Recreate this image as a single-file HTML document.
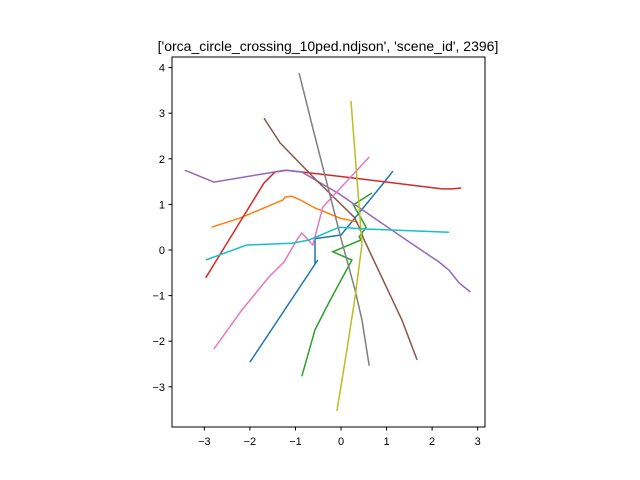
<!DOCTYPE html>
<html><head><meta charset="utf-8"><style>
body{margin:0;background:#fff;}
svg{display:block;font-family:"Liberation Sans","DejaVu Sans",sans-serif;}
</style></head><body>
<svg id="chart" width="640" height="480">
<rect width="640" height="480" fill="#fff"/>
<text x="328" y="51" text-anchor="middle" font-size="14">['orca_circle_crossing_10ped.ndjson', 'scene_id', 2396]</text>
<g id="lines"></g>
<rect x="172" y="57" width="313" height="370" fill="none" stroke="#000" stroke-width="1"/>
<g id="ticks"></g>
</svg>
<script>
const xTicks = [-3,-2,-1,0,1,2,3];
const yTicks = [-3,-2,-1,0,1,2,3,4];
const colors = ["#1f77b4","#ff7f0e","#2ca02c","#d62728","#9467bd","#8c564b","#e377c2","#7f7f7f","#bcbd22","#17becf"];
const ped0 = [[-2.0,-2.46],[-0.51,-0.22],[-0.57,-0.31],[-0.57,0.25],[0.0,0.33],[0.95,1.49],[1.14,1.73]];
const ped1 = [[-2.84,0.5],[-2.22,0.7],[-1.27,1.1],[-1.23,1.16],[-1.08,1.18],[-0.9,1.1],[-0.57,0.92],[-0.02,0.7],[0.37,0.61]];
const ped2 = [[-0.86,-2.77],[-0.57,-1.75],[-0.26,-1.14],[0.24,-0.22],[-0.18,-0.04],[0.44,0.22],[0.4,0.29],[0.55,0.5],[0.46,0.66],[0.27,0.99],[0.68,1.25]];
const ped3 = [[-2.97,-0.61],[-2.46,0.22],[-1.69,1.47],[-1.45,1.71],[-1.19,1.75],[0.09,1.6],[2.22,1.34],[2.44,1.34],[2.64,1.36]];
const ped4 = [[-3.43,1.75],[-2.79,1.49],[-1.23,1.75],[-0.86,1.71],[-0.48,1.49],[-0.04,1.23],[1.49,0.18],[2.15,-0.26],[2.37,-0.44],[2.59,-0.72],[2.84,-0.92]];
const ped5 = [[-1.69,2.89],[-1.34,2.35],[-0.57,1.56],[0.29,0.72],[0.4,0.5],[0.51,0.22],[1.34,-1.54],[1.67,-2.41]];
const ped6 = [[-2.79,-2.17],[-2.18,-1.32],[-1.58,-0.59],[-1.25,-0.26],[-0.97,0.22],[-0.86,0.37],[-0.62,0.11],[-0.4,0.94],[0.62,2.04]];
const ped7 = [[-0.92,3.88],[-0.64,2.76],[0.02,0.18],[0.31,-0.88],[0.46,-1.54],[0.62,-2.54]];
const ped8 = [[0.22,3.27],[0.46,0.13],[0.31,-1.03],[0.13,-2.19],[-0.09,-3.53]];
const ped9 = [[-2.97,-0.22],[-2.07,0.11],[-1.08,0.15],[-0.7,0.22],[-0.04,0.5],[0.53,0.46],[2.37,0.39]];
const peds = [ped0,ped1,ped2,ped3,ped4,ped5,ped6,ped7,ped8,ped9];
const NS="http://www.w3.org/2000/svg";
function sx(v){return 341+v*45.55;}
function sy(v){return 250-v*45.6;}
const lg=document.getElementById('lines');
peds.forEach((p,i)=>{
  const pl=document.createElementNS(NS,'polyline');
  pl.setAttribute('points',p.map(q=>sx(q[0]).toFixed(1)+','+sy(q[1]).toFixed(1)).join(' '));
  pl.setAttribute('fill','none');
  pl.setAttribute('stroke',colors[i]);
  pl.setAttribute('stroke-width','1.5');
  
  
  lg.appendChild(pl);
});
const tg=document.getElementById('ticks');
xTicks.forEach(t=>{
  const x=sx(t);
  const l=document.createElementNS(NS,'line');
  l.setAttribute('x1',x);l.setAttribute('x2',x);l.setAttribute('y1',427);l.setAttribute('y2',430.5);
  l.setAttribute('stroke','#000');
  
  
  tg.appendChild(l);
  const tx=document.createElementNS(NS,'text');
  tx.setAttribute('x',x);tx.setAttribute('y',445);tx.setAttribute('text-anchor','middle');tx.setAttribute('font-size','11');
  tx.textContent=(t<0?'\u2212'+(-t):''+t);
  
  
  tg.appendChild(tx);
});
yTicks.forEach(t=>{
  const y=sy(t);
  const l=document.createElementNS(NS,'line');
  l.setAttribute('x1',168.5);l.setAttribute('x2',172);l.setAttribute('y1',y);l.setAttribute('y2',y);
  l.setAttribute('stroke','#000');
  
  
  tg.appendChild(l);
  const tx=document.createElementNS(NS,'text');
  tx.setAttribute('x',165);tx.setAttribute('y',y+4);tx.setAttribute('text-anchor','end');tx.setAttribute('font-size','11');
  tx.textContent=(t<0?'\u2212'+(-t):''+t);
  
  
  tg.appendChild(tx);
});
</script>
</body></html>
